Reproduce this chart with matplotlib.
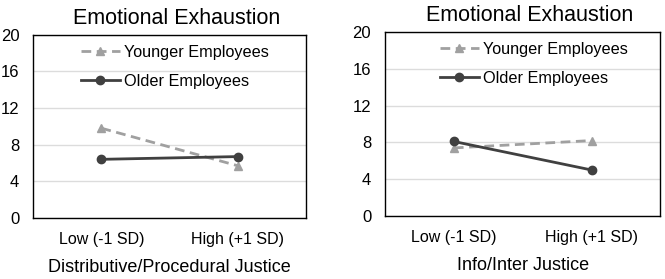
# Emotional exhaustion interaction plots — two panels
import matplotlib.pyplot as plt
import matplotlib as mpl

mpl.rcParams['font.family'] = ['Liberation Sans', 'DejaVu Sans']

# Data
levels = ["Low (-1 SD)", "High (+1 SD)"]
series_names = ["Younger Employees", "Older Employees"]
dist_younger = [9.8, 5.7]
dist_older = [6.4, 6.7]
info_younger = [7.4, 8.2]
info_older = [8.1, 5.0]
y_ticks = [0, 4, 8, 12, 16, 20]
panel_titles = ["Emotional Exhaustion", "Emotional Exhaustion"]
panel_xlabels = ["Distributive/Procedural Justice", "Info/Inter Justice"]

fig = plt.figure(figsize=(6.65, 2.79), dpi=100)
ax1 = fig.add_axes([0.050, 0.219, 0.410, 0.656])
ax2 = fig.add_axes([0.579, 0.226, 0.414, 0.659])

panels = [
    (ax1, dist_younger, dist_older, panel_titles[0], panel_xlabels[0], 0.13),
    (ax2, info_younger, info_older, panel_titles[1], panel_xlabels[1], 0.155),
]

x = range(len(levels))
for ax, young, old, title, xlabel, lx in panels:
    ax.plot(x, young, color='#a0a0a0', linestyle=(0, (3.5, 2)), linewidth=2,
            marker='^', markersize=6, label=series_names[0])
    ax.plot(x, old, color='#404040', linestyle='-', linewidth=2,
            marker='o', markersize=6, label=series_names[1])

    ax.set_xlim(-0.5, 1.5)
    ax.set_ylim(0, 20)
    ax.set_yticks(y_ticks)
    ax.set_xticks(list(x))
    ax.set_xticklabels(levels)
    ax.yaxis.grid(True, color='#dcdcdc', linewidth=1)
    ax.set_axisbelow(True)
    ax.tick_params(length=0)
    ax.tick_params(axis='x', pad=10, labelsize=11.5)
    ax.tick_params(axis='y', pad=10, labelsize=12)
    for sp in ax.spines.values():
        sp.set_color('black')
        sp.set_linewidth(1)

    ax.set_title(title, fontsize=15.5, pad=8, x=0.525)
    ax.set_xlabel(xlabel, fontsize=13, labelpad=9)

    ax.legend(loc='upper left', bbox_to_anchor=(lx - 0.01, 1.025), frameon=False,
              fontsize=11.7, labelspacing=0.85, handlelength=2.4,
              handletextpad=0.3)

fig.savefig('out.png', dpi=100)
